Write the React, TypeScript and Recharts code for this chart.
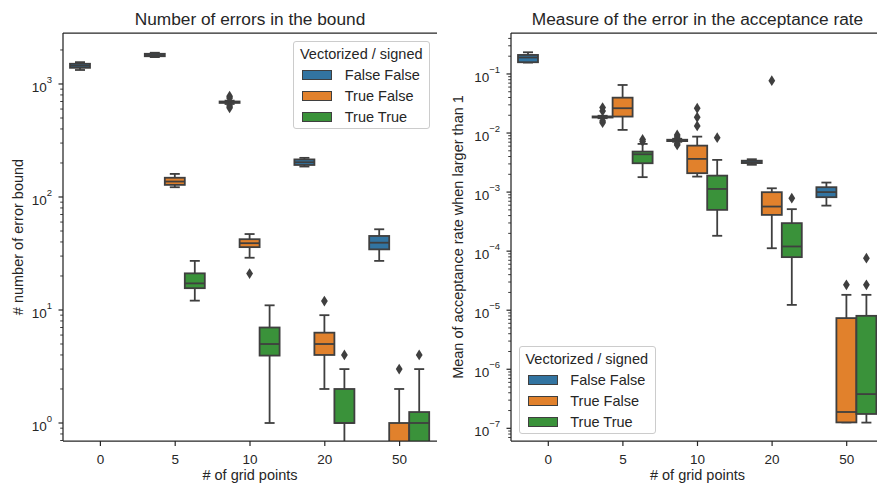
import React from 'react';
import { ComposedChart, Bar, XAxis, YAxis, Legend } from 'recharts';

// ---------- labels & categories ----------
const GRID_POINTS = ['0', '5', '10', '20', '50'];
const HUE_LABELS = ['False False', 'True False', 'True True'];
const HUE_COLORS = ['#3274a1', '#e1812c', '#3a923a'];
const LEGEND_TITLE = 'Vectorized / signed';
const LEFT_TITLE = 'Number of errors in the bound';
const RIGHT_TITLE = 'Measure of the error in the acceptance rate';
const LEFT_YLABEL = '# number of error bound';
const RIGHT_YLABEL = 'Mean of acceptance rate when larger than 1';
const XLABEL = '# of grid points';

type Stat = { min: number; q1: number; med: number; q3: number; max: number; fliers: number[] } | null;

// ---------- left panel: number of errors in the bound (per grid point) ----------
const ERRORS_FALSE_FALSE: Stat[] = [
  { min: 1330, q1: 1390, med: 1450, q3: 1510, max: 1560, fliers: [] },
  { min: 1730, q1: 1760, med: 1800, q3: 1850, max: 1890, fliers: [] },
  { min: 665, q1: 680, med: 690, q3: 700, max: 712, fliers: [780, 750, 640, 615] },
  { min: 186, q1: 192, med: 203, q3: 215, max: 222, fliers: [] },
  { min: 27.2, q1: 34.4, med: 39.4, q3: 45.2, max: 51.8, fliers: [] },
];
const ERRORS_TRUE_FALSE: Stat[] = [
  null,
  { min: 122, q1: 128, med: 137, q3: 148, max: 160, fliers: [] },
  { min: 29, q1: 36, med: 39, q3: 42.3, max: 47, fliers: [21] },
  { min: 2, q1: 4, med: 5, q3: 6.3, max: 9, fliers: [12] },
  { min: 0, q1: 0, med: 0, q3: 1, max: 2, fliers: [3] },
];
const ERRORS_TRUE_TRUE: Stat[] = [
  null,
  { min: 12.1, q1: 15.6, med: 17.2, q3: 21.1, max: 27.2, fliers: [] },
  { min: 1, q1: 3.95, med: 5, q3: 7, max: 11, fliers: [] },
  { min: 0, q1: 1, med: 1, q3: 2, max: 3, fliers: [4] },
  { min: 0, q1: 0, med: 1, q3: 1.25, max: 3, fliers: [4] },
];

// ---------- right panel: mean of acceptance rate when larger than 1 ----------
const RATE_FALSE_FALSE: Stat[] = [
  { min: 0.156, q1: 0.158, med: 0.19, q3: 0.21, max: 0.233, fliers: [] },
  { min: 0.0178, q1: 0.0183, med: 0.0187, q3: 0.0191, max: 0.0196, fliers: [0.027, 0.0235, 0.016, 0.015] },
  { min: 0.0071, q1: 0.0073, med: 0.0075, q3: 0.0077, max: 0.008, fliers: [0.0093, 0.0086, 0.0066, 0.0063] },
  { min: 0.0029, q1: 0.0031, med: 0.0032, q3: 0.0034, max: 0.0036, fliers: [] },
  { min: 0.00059, q1: 0.00082, med: 0.001, q3: 0.00121, max: 0.00145, fliers: [] },
];
const RATE_TRUE_FALSE: Stat[] = [
  null,
  { min: 0.0113, q1: 0.019, med: 0.0263, q3: 0.0397, max: 0.0651, fliers: [] },
  { min: 0.00183, q1: 0.00209, med: 0.00365, q3: 0.00612, max: 0.00869, fliers: [0.0263, 0.0185, 0.0132] },
  { min: 0.000112, q1: 0.000411, med: 0.000569, q3: 0.000996, max: 0.00116, fliers: [0.077] },
  { min: 1.26e-7, q1: 1.26e-7, med: 1.89e-7, q3: 7.35e-6, max: 1.82e-5, fliers: [2.69e-5] },
];
const RATE_TRUE_TRUE: Stat[] = [
  null,
  { min: 0.00179, q1: 0.00308, med: 0.00437, q3: 0.00485, max: 0.00654, fliers: [0.0078, 0.0072] },
  { min: 0.000182, q1: 0.0005, med: 0.00113, q3: 0.0019, max: 0.00351, fliers: [0.00835] },
  { min: 1.23e-5, q1: 7.92e-5, med: 0.00012, q3: 0.000298, max: 0.000514, fliers: [0.00079] },
  { min: 1.25e-7, q1: 1.75e-7, med: 3.8e-7, q3: 8.03e-6, max: 1.82e-5, fliers: [2.69e-5, 7.6e-5] },
];

// ---------- axes ----------
const LEFT_DOMAIN: [number, number] = [0.693, 2826];
const RIGHT_DOMAIN: [number, number] = [6.1e-8, 0.494];
const LEFT_MAJOR_TICKS = [1, 10, 100, 1000];
const RIGHT_MAJOR_TICKS = [1e-7, 1e-6, 1e-5, 1e-4, 1e-3, 1e-2, 1e-1];
const LEFT_ZERO_FLOOR = 0.3; // zero counts sit below the log axis
const RIGHT_ZERO_FLOOR = 1e-8;

function minorTicks(domain: [number, number]) {
  const out: number[] = [];
  const lo = Math.floor(Math.log10(domain[0]));
  const hi = Math.ceil(Math.log10(domain[1]));
  for (let e = lo; e <= hi; e++) {
    for (let m = 2; m <= 9; m++) {
      const v = parseFloat((m * Math.pow(10, e)).toPrecision(6));
      if (v >= domain[0] && v <= domain[1]) out.push(v);
    }
  }
  return out;
}

// ---------- styling ----------
const FONT = '"Liberation Sans", Arial, Helvetica, sans-serif';
const TEXT = '#262626';
const SPINE = '#262626';
const LINE = '#3f3f3f';
const LW = 1.8;
const BAR_W = 20;

const ELEMENT_KINDS = ['whisk', 'box', 'med', 'f0', 'f1', 'f2', 'f3'];

function buildRows(series: Stat[][], floor: number) {
  const pos = (v: number) => (v > 0 ? v : floor);
  return GRID_POINTS.map((g, ci) => {
    const row: any = { grid: g };
    series.forEach((s, hi) => {
      const st = s[ci];
      if (!st) return;
      const k = `h${hi}`;
      row[`${k}_whisk`] = [pos(st.min), pos(st.max)];
      row[`${k}_box`] = [pos(st.q1), pos(st.q3)];
      row[`${k}_med`] = [pos(st.med), pos(st.med)];
      st.fliers.forEach((f, fi) => {
        row[`${k}_f${fi}`] = [f, f];
      });
    });
    return row;
  });
}

const LEFT_ROWS = buildRows([ERRORS_FALSE_FALSE, ERRORS_TRUE_FALSE, ERRORS_TRUE_TRUE], LEFT_ZERO_FLOOR);
const RIGHT_ROWS = buildRows([RATE_FALSE_FALSE, RATE_TRUE_FALSE, RATE_TRUE_TRUE], RIGHT_ZERO_FLOOR);

const ok = (sp: any, key: string) =>
  sp && sp.payload && Array.isArray(sp.payload[key]) && Number.isFinite(sp.y) && Number.isFinite(sp.x);

function renderElement(kind: string, sp: any, hi: number, key: string) {
  if (!ok(sp, key)) return <g />;
  const x = sp.x;
  const w = sp.width;
  const y = sp.y;
  const h = Number.isFinite(sp.height) ? sp.height : 0;
  const cx = x + w / 2;
  if (kind === 'whisk') {
    const cap = w / 4;
    return (
      <g>
        <line x1={cx} x2={cx} y1={y} y2={y + h} stroke={LINE} strokeWidth={LW} />
        <line x1={cx - cap} x2={cx + cap} y1={y} y2={y} stroke={LINE} strokeWidth={LW} />
        <line x1={cx - cap} x2={cx + cap} y1={y + h} y2={y + h} stroke={LINE} strokeWidth={LW} />
      </g>
    );
  }
  if (kind === 'box') {
    return <rect x={x} y={y} width={w} height={Math.max(h, 0.01)} fill={HUE_COLORS[hi]} stroke={LINE} strokeWidth={LW} />;
  }
  if (kind === 'med') {
    return <line x1={x} x2={x + w} y1={y} y2={y} stroke={LINE} strokeWidth={LW} />;
  }
  const dx = 3.4;
  const dy = 5.4;
  return <path d={`M${cx},${y - dy}L${cx + dx},${y}L${cx},${y + dy}L${cx - dx},${y}Z`} fill={LINE} />;
}

function expLabel(v: number) {
  const e = Math.round(Math.log10(v));
  return e < 0 ? `\u2212${-e}` : `${e}`;
}

const YTick = (props: any) => {
  const { x, y, payload, majors } = props;
  const v = payload.value;
  const isMajor = majors.some((m: number) => Math.abs(m - v) / m < 1e-6);
  const len = isMajor ? 4.5 : 2.8;
  return (
    <g>
      <line x1={x} x2={x - len} y1={y} y2={y} stroke={SPINE} strokeWidth={isMajor ? 1.2 : 0.9} />
      {isMajor && (
        <text x={x - 11} y={y + 7.8} textAnchor="end" fontSize={13.5} fill={TEXT} fontFamily={FONT}>
          10
          <tspan dy={-9} fontSize={9.5}>
            {expLabel(v)}
          </tspan>
        </text>
      )}
    </g>
  );
};

const XTick = (props: any) => {
  const { x, y, payload } = props;
  return (
    <g>
      <line x1={x} x2={x} y1={y} y2={y + 5} stroke={SPINE} strokeWidth={1.2} />
      <text x={x} y={y + 23.3} textAnchor="middle" fontSize={13.5} fill={TEXT} fontFamily={FONT}>
        {payload.value}
      </text>
    </g>
  );
};

const LegendBox = () => (
  <div
    style={{
      position: 'relative',
      width: 137,
      height: 88,
      boxSizing: 'border-box',
      border: '1px solid #cccccc',
      borderRadius: 3,
      background: 'rgba(255,255,255,0.85)',
      fontFamily: FONT,
      fontSize: 14.5,
      color: TEXT,
    }}
  >
    <div style={{ position: 'absolute', left: 6, top: 3.5, lineHeight: '17px', whiteSpace: 'nowrap' }}>{LEGEND_TITLE}</div>
    {HUE_LABELS.map((h, i) => (
      <div
        key={h}
        style={{ position: 'absolute', left: 8.3, top: 24.5 + i * 21.2, height: 17, display: 'flex', alignItems: 'center', whiteSpace: 'nowrap' }}
      >
        <span
          style={{
            display: 'inline-block',
            width: 30,
            height: 10,
            boxSizing: 'border-box',
            background: HUE_COLORS[i],
            border: `1px solid ${LINE}`,
          }}
        />
        <span style={{ marginLeft: 12.5, lineHeight: '17px' }}>{h}</span>
      </div>
    ))}
  </div>
);

type PanelProps = {
  rows: any[];
  title: string;
  yLabel: string;
  domain: [number, number];
  majors: number[];
  width: number;
  yAxisWidth: number;
  marginRight: number;
  legendLeft: number;
  legendTop: number;
};

function Panel(p: PanelProps) {
  const ticks = [...minorTicks(p.domain), ...p.majors].sort((a, b) => a - b);
  const labelStyle = { fontSize: 14.5, fill: TEXT, fontFamily: FONT };
  return (
    <ComposedChart
      width={p.width}
      height={483}
      data={p.rows}
      margin={{ top: 0, right: p.marginRight, bottom: 0, left: 0 }}
      barGap={0}
      barCategoryGap="10%"
    >
      <XAxis
        xAxisId="top"
        orientation="top"
        dataKey="grid"
        height={33}
        tick={false}
        tickLine={false}
        axisLine={{ stroke: SPINE, strokeWidth: 1.25 }}
        label={{ value: p.title, position: 'insideTop', offset: 12.5, style: { fontSize: 17.3, fill: TEXT, fontFamily: FONT } }}
      />
      <XAxis
        xAxisId="box"
        dataKey="grid"
        height={42}
        interval={0}
        tickSize={0}
        tickMargin={0}
        tickLine={false}
        tick={(tp: any) => <XTick {...tp} />}
        axisLine={{ stroke: SPINE, strokeWidth: 1.25 }}
        label={{ value: XLABEL, position: 'insideBottom', offset: 3, style: labelStyle }}
      />
      {ELEMENT_KINDS.filter((k) => k !== 'box').map((k) => (
        <XAxis key={k} xAxisId={k} dataKey="grid" hide />
      ))}
      <YAxis
        type="number"
        scale="log"
        domain={p.domain}
        allowDataOverflow
        ticks={ticks}
        interval={0}
        width={p.yAxisWidth}
        tickSize={0}
        tickMargin={0}
        tickLine={false}
        tick={(tp: any) => <YTick {...tp} majors={p.majors} />}
        axisLine={{ stroke: SPINE, strokeWidth: 1.25 }}
        label={{ value: p.yLabel, angle: -90, position: 'insideLeft', offset: 18, style: { ...labelStyle, textAnchor: 'middle' } }}
      />
      <YAxis
        yAxisId="frame"
        orientation="right"
        width={0}
        tick={false}
        tickLine={false}
        axisLine={{ stroke: SPINE, strokeWidth: 1.25 }}
      />
      {ELEMENT_KINDS.map((kind) =>
        HUE_LABELS.map((_, hi) => {
          const key = `h${hi}_${kind}`;
          return (
            <Bar
              key={key}
              xAxisId={kind}
              dataKey={key}
              barSize={BAR_W}
              isAnimationActive={false}
              legendType="none"
              shape={(sp: any) => renderElement(kind, sp, hi, key)}
            />
          );
        })
      )}
      <Legend
        layout="vertical"
        align="center"
        verticalAlign="middle"
        wrapperStyle={{ left: p.legendLeft, top: p.legendTop, width: 137, height: 88 }}
        content={() => <LegendBox />}
      />
    </ComposedChart>
  );
}

export default function App() {
  return (
    <div
      style={{
        position: 'fixed',
        left: 0,
        top: 0,
        width: 877,
        height: 483,
        overflow: 'hidden',
        background: '#ffffff',
      }}
    >
      <div style={{ position: 'absolute', left: 0, top: 0 }}>
        <Panel
          rows={LEFT_ROWS}
          title={LEFT_TITLE}
          yLabel={LEFT_YLABEL}
          domain={LEFT_DOMAIN}
          majors={LEFT_MAJOR_TICKS}
          width={440}
          yAxisWidth={63}
          marginRight={3}
          legendLeft={293}
          legendTop={41}
        />
      </div>
      <div style={{ position: 'absolute', left: 440, top: 0 }}>
        <Panel
          rows={RIGHT_ROWS}
          title={RIGHT_TITLE}
          yLabel={RIGHT_YLABEL}
          domain={RIGHT_DOMAIN}
          majors={RIGHT_MAJOR_TICKS}
          width={460}
          yAxisWidth={71}
          marginRight={16}
          legendLeft={78.5}
          legendTop={346}
        />
      </div>
    </div>
  );
}
